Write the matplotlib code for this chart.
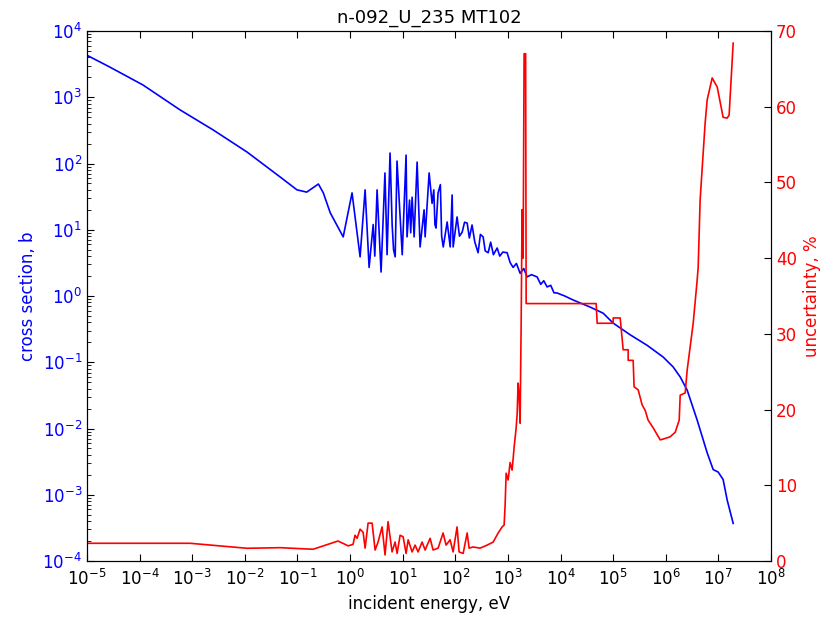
import matplotlib
matplotlib.use('Agg')
import matplotlib.pyplot as plt
from matplotlib.ticker import LogLocator, NullLocator

# capture cross section (blue, left axis)
xs_energy = [1e-5, 2.7e-5, 6.6e-5, 1.16e-4, 5.9e-4, 2.5e-3, 0.011, 0.047, 0.098, 0.15,
             0.25, 0.31, 0.42, 0.74, 1.09, 1.55, 1.93, 2.3, 2.75, 2.95,
             3.26, 3.88, 4.6, 5.05, 5.75, 6.3, 6.7, 7.2, 7.8, 9.8,
             11.6, 12.1, 13.5, 14.2, 15.1, 16.5, 18.8, 21.4, 25.5, 26.7,
             31.8, 36.2, 39, 41, 43, 47, 52, 55, 59, 70,
             80, 87, 91, 108, 120, 135, 150, 168, 185, 208,
             235, 271, 300, 338, 370, 421, 470, 530, 624, 700,
             800, 966, 1100, 1256, 1450, 1706, 2000, 2317, 2800, 3589,
             4200, 4800, 5560, 6500, 7500, 8610, 12000, 17400, 36600, 64600,
             1.0e5, 2.1e5, 4.43e5, 8.9e5, 1.38e6, 1.88e6, 2.55e6, 3.95e6, 6.12e6, 7.96e6,
             9.9e6, 1.23e7, 1.47e7, 1.91e7]
xs_value = [4300, 2860, 1950, 1530, 643, 321, 149, 62.5, 40, 37,
            49, 36, 18, 7.8, 36, 3.9, 40, 2.7, 12, 4,
            40, 2.3, 72, 4.2, 144, 12, 5, 3.9, 109, 4.2,
            134, 7.8, 28, 9, 31, 7.8, 105, 5.5, 20, 7.8,
            72, 25, 40, 12, 10.6, 36, 48, 8, 5.5, 13.1,
            5.5, 33.5, 5.5, 15.6, 8, 9.2, 13, 12.6, 7.5, 11.8,
            6.5, 4.5, 8.5, 7.8, 4.8, 4.5, 6.5, 4.2, 5.3, 4.0,
            4.6, 4.5, 3.2, 2.7, 3.1, 2.2, 2.6, 1.94, 2.1, 1.94,
            1.5, 1.7, 1.37, 1.45, 1.12, 1.11, 1.0, 0.87, 0.68, 0.55,
            0.39, 0.26, 0.18, 0.12, 0.085, 0.060, 0.038, 0.0134, 0.0043, 0.0024,
            0.0022, 0.0017, 0.00083, 0.00037]

# relative uncertainty (red, right axis)
unc_energy = [1e-5, 1.58e-4, 9.1e-4, 0.011, 0.047, 0.198, 0.59, 0.92, 1.14, 1.24,
              1.36, 1.55, 1.77, 1.93, 2.2, 2.62, 2.99, 3.4, 4.06, 4.62,
              5.27, 6.28, 7.17, 7.83, 8.93, 10.2, 11.6, 12.7, 15.1, 17.2,
              19.6, 23.4, 26.7, 33.2, 37.8, 47.1, 58.6, 66.8, 79.6, 90.8,
              108, 118, 141, 168, 183, 218, 296, 403, 524, 652,
              776, 847, 885, 925, 1010, 1100, 1200, 1256, 1310, 1430,
              1500, 1560, 1630, 1706, 1750, 1780, 1860, 1900, 1945, 2030,
              2170, 2220, 4.75e4, 4.97e4, 1.0e5, 1.0e5, 1.36e5, 1.55e5, 1.93e5, 1.93e5,
              2.4e5, 2.5e5, 2.99e5, 3.56e5, 4.06e5, 4.62e5, 5.75e5, 7.83e5, 8.9e5, 1.21e6,
              1.51e6, 1.8e6, 1.88e6, 2.34e6, 2.55e6, 2.91e6, 3.32e6, 3.95e6, 4.13e6, 4.5e6,
              5.14e6, 5.61e6, 6.12e6, 7.62e6, 9.5e6, 1.23e7, 1.47e7, 1.6e7, 1.91e7]
unc_value = [2.34, 2.34, 2.34, 1.68, 1.76, 1.55, 2.64, 2.0, 2.2, 3.4,
             3.0, 4.2, 3.8, 1.7, 5.0, 5.0, 1.45, 2.5, 4.5, 0.8,
             5.2, 1.2, 2.5, 1.0, 3.4, 3.2, 1.0, 2.8, 1.2, 2.1,
             1.2, 2.5, 1.45, 3.0, 1.45, 1.7, 3.7, 2.1, 2.8, 1.2,
             4.5, 1.2, 1.0, 3.7, 1.7, 1.85, 1.7, 2.1, 2.5, 3.7,
             4.5, 4.75, 7.4, 11.6, 10.7, 13.0, 12.0, 13.5, 15.0, 17.5,
             19.5, 23.5, 22.0, 18.2, 26, 30.5, 46.4, 40, 40, 67,
             67, 34, 34, 31.4, 31.4, 32.1, 32.1, 27.9, 27.9, 26.5,
             26.5, 23.0, 22.6, 20.6, 19.9, 18.6, 17.6, 16.0, 16.1, 16.4,
             17.0, 18.6, 21.9, 22.2, 25.2, 28.3, 31.4, 37.1, 38.8, 47.7,
             53.9, 57.9, 60.9, 63.8, 62.6, 58.6, 58.5, 58.9, 68.4]

fig = plt.figure(figsize=(8.23, 6.22), dpi=100)
ax = fig.add_axes([87 / 823, 1 - 561 / 622, 684 / 823, 530 / 622])
ax.plot(xs_energy, xs_value, color='b', lw=1.2)
ax.set_xscale('log')
ax.set_yscale('log')
ax.set_xlim(1e-5, 1e8)
ax.set_ylim(1e-4, 1e4)
ax.xaxis.set_major_locator(LogLocator(base=10, numticks=20))
ax.xaxis.set_minor_locator(NullLocator())
ax.set_xlabel('incident energy, eV', fontsize=12)
ax.set_ylabel('cross section, b', color='b', fontsize=12)
ax.set_title('n-092_U_235 MT102', fontsize=13)
ax.tick_params(axis='both', which='both', direction='in', top=True, labelsize=12)
ax.tick_params(which='major', length=5)
ax.tick_params(which='minor', length=3)
ax.tick_params(axis='y', labelcolor='b')
ax.tick_params(axis='x', pad=6)

ax2 = ax.twinx()
ax2.plot(unc_energy, unc_value, color='r', lw=1.2)
ax2.set_ylim(0, 70)
ax2.set_yticks(range(0, 71, 10))
ax2.set_ylabel('uncertainty, %', color='r', fontsize=12)
ax2.tick_params(axis='y', direction='in', length=5, labelcolor='r', labelsize=12)
ax2.set_xlim(1e-5, 1e8)

fig.savefig('out.png', dpi=100)
